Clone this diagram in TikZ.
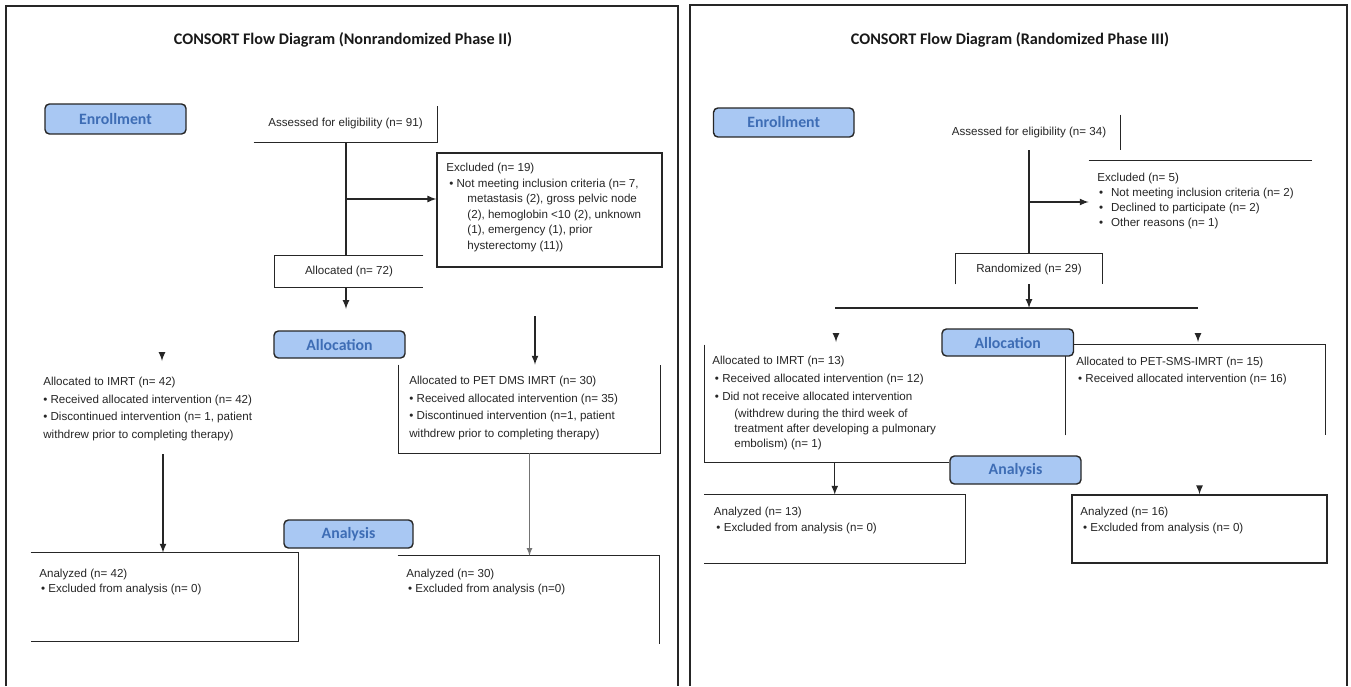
\documentclass[tikz,border=0pt]{standalone}
\usepackage{fontspec}
\setmainfont{Liberation Sans}
\newfontfamily\calib{Carlito}
\usepackage{tikz}
\usetikzlibrary{arrows}

\definecolor{phasefill}{HTML}{A9C8F3}
\definecolor{phasetext}{HTML}{3E6DB5}
\definecolor{inkgray}{HTML}{262626}

\tikzset{
  >=latex,
  panel/.style={draw=inkgray, line width=0.9pt},
  edge/.style={draw=inkgray, line width=0.75pt},
  phase/.style={draw=inkgray, line width=0.8pt, fill=phasefill, rounded corners=2.5pt,
    text=phasetext, font=\calib\bfseries\fontsize{9}{10}\selectfont, inner sep=0pt},
  frm/.style={inner sep=0pt, text=black!85, font=\fontsize{6.6}{10}\selectfont},
  txt/.style={anchor=north west, align=left, inner sep=0pt, text=black!85,
    font=\fontsize{6.6}{10}\selectfont},
  ttl/.style={font=\calib\bfseries\fontsize{9.2}{11}\selectfont, text=black!90},
}

\begin{document}
\begin{tikzpicture}[x=0.02cm, y=-0.02cm]
  \path[use as bounding box, fill=white] (0,0) rectangle (1351,686);

  % Phase II, nonrandomized
  \draw [panel] (6,686) -- (6,6) -- (678,6) -- (678,686);
  \node [ttl] (ttlL) at (343,40) {CONSORT Flow Diagram (Nonrandomized Phase II)};
  \node [phase, minimum width=2.82cm, minimum height=0.6cm] (enL) at (115.5,119) {Enrollment};

  \node [frm, minimum width=3.66cm, minimum height=0.72cm] (asL) at (345.5,124) {Assessed for eligibility (n= 91)};
  \draw [edge] (asL.south west) -- (asL.south east) -- (asL.north east);

  \node [frm, draw=inkgray, line width=0.75pt, minimum width=4.5cm, minimum height=2.28cm] (exL) at (549.5,210) {};
  \node [txt, font=\fontsize{6.6}{8.85}\selectfont] (exLt) at (446,163) {Excluded (n= 19)\\
    \hspace*{1.7pt}• Not meeting inclusion criteria (n= 7,\\
    \hspace*{12pt}metastasis (2), gross pelvic node\\
    \hspace*{12pt}(2), hemoglobin <10 (2), unknown\\
    \hspace*{12pt}(1), emergency (1), prior\\
    \hspace*{12pt}hysterectomy (11))};

  \node [frm, minimum width=2.96cm, minimum height=0.62cm] (alL) at (349,271.5) {Allocated (n= 72)};
  \draw [edge] (alL.north east) -- (alL.north west) -- (alL.south west) -- (alL.south east);

  \coordinate (brL) at (346,199);
  \draw [edge] (asL.south -| brL) -- (alL.north -| brL);
  \draw [edge,->] (brL) -- (brL -| exL.west);
  \coordinate (tpL) at (346,309);
  \draw [edge,->] (alL.south -| tpL) -- (tpL);

  \coordinate (stL) at (162,353);
  \coordinate (etL) at (162,361);
  \draw [edge,->] (stL) -- (etL);
  \node [txt] (imL) at (43,377) {Allocated to IMRT (n= 42)\\
    • Received allocated intervention (n= 42)\\
    • Discontinued intervention (n= 1, patient\\
    withdrew prior to completing therapy)};

  \node [frm, minimum width=5.22cm, minimum height=1.76cm] (rtL) at (529.5,409) {};
  \draw [edge] (rtL.north west) -- (rtL.south west) -- (rtL.south east) -- (rtL.north east);
  \coordinate (tpR) at (535,316);
  \draw [edge,->] (tpR) -- (tpR |- rtL.north);
  \node [txt] (rtLt) at (409,376) {Allocated to PET DMS IMRT (n= 30)\\
    • Received allocated intervention (n= 35)\\
    • Discontinued intervention (n=1, patient\\
    withdrew prior to completing therapy)};

  \node [frm, minimum width=5.34cm, minimum height=1.76cm] (anL) at (164.5,597) {};
  \draw [edge] (anL.north west) -- (anL.north east) -- (anL.south east) -- (anL.south west);
  \coordinate (dnL) at (163,454);
  \draw [edge,->] (dnL) -- (dnL |- anL.north);
  \node [txt, font=\fontsize{6.6}{8.5}\selectfont] (anLt) at (39,569) {Analyzed (n= 42)\\
    \hspace*{1pt}• Excluded from analysis (n= 0)};

  \node [frm, minimum width=5.22cm, minimum height=1.76cm] (anR) at (528.5,600) {};
  \draw [edge] (anR.north west) -- (anR.north east) -- (anR.south east);
  \draw [edge,->,draw=black!55,line width=0.5pt] (rtL.south) -- (rtL.south |- anR.north);
  \node [txt, font=\fontsize{6.6}{8.5}\selectfont] (anRt) at (406,569) {Analyzed (n= 30)\\
    \hspace*{1pt}• Excluded from analysis (n=0)};

  \node [phase, minimum width=2.62cm, minimum height=0.54cm] (alcL) at (339.5,344.5) {Allocation};
  \node [phase, minimum width=2.58cm, minimum height=0.56cm] (anlL) at (348.5,534) {Analysis};

  % Phase III, randomized
  \draw [panel] (690,686) -- (690,5) -- (1347,5) -- (1347,686);
  \node [ttl] (ttlR) at (1010,40) {CONSORT Flow Diagram (Randomized Phase III)};
  \node [phase, minimum width=2.81cm, minimum height=0.58cm] (enR) at (783.75,122.5) {Enrollment};

  \node [frm, minimum width=3.64cm, minimum height=0.7cm] (asR) at (1029,132.5) {Assessed for eligibility (n= 34)};
  \draw [edge] (asR.north east) -- (asR.south east);

  \node [frm, minimum width=4.46cm, minimum height=1.48cm] (exR) at (1200.5,198) {};
  \draw [edge] (exR.north west) -- (exR.north east);
  \node [txt, font=\fontsize{6.6}{8.5}\selectfont] (exRt) at (1097,173) {Excluded (n= 5)\\
    \hspace*{1pt}•\hspace{4.5pt}Not meeting inclusion criteria (n= 2)\\
    \hspace*{1pt}•\hspace{4.5pt}Declined to participate (n= 2)\\
    \hspace*{1pt}•\hspace{4.5pt}Other reasons (n= 1)};

  \node [frm, minimum width=2.92cm, minimum height=0.6cm] (rdR) at (1029,269) {Randomized (n= 29)};
  \draw [edge] (rdR.south west) -- (rdR.north west) -- (rdR.north east) -- (rdR.south east);

  \coordinate (brR) at (1029,202);
  \draw [edge] (asR.south) -- (rdR.north);
  \draw [edge,->] (brR) -- (brR -| exR.west);

  \coordinate (spL) at (835,308);
  \coordinate (spR) at (1198,308);
  \draw [edge] (spL) -- (spR);
  \draw [edge,->] (rdR.south) -- (rdR.south |- spL);

  \coordinate (tL1) at (836,334);
  \coordinate (tL2) at (836,342);
  \coordinate (tR1) at (1198,334);
  \coordinate (tR2) at (1198,342);
  \draw [edge,->] (tL1) -- (tL2);
  \draw [edge,->] (tR1) -- (tR2);

  \node [frm, minimum width=4.89cm, minimum height=2.34cm] (imR) at (826.75,403.5) {};
  \draw [edge] (imR.north west) -- (imR.south west) -- (imR.south east);
  \node [txt, font=\fontsize{6.6}{8.6}\selectfont] (imRt) at (712,356) {Allocated to IMRT (n= 13)\\[1.6pt]
    \hspace*{1.5pt}• Received allocated intervention (n= 12)\\[1.6pt]
    \hspace*{1.5pt}• Did not receive allocated intervention\\[0.8pt]
    \hspace*{12.5pt}(withdrew during the third week of\\
    \hspace*{12.5pt}treatment after developing a pulmonary\\
    \hspace*{12.5pt}embolism) (n= 1)};

  \node [frm, minimum width=5.18cm, minimum height=1.8cm] (ptR) at (1195.5,390) {};
  \draw [edge] (ptR.south west) -- (ptR.north west) -- (ptR.north east) -- (ptR.south east);
  \node [txt, font=\fontsize{6.6}{9.6}\selectfont] (ptRt) at (1076,357) {Allocated to PET-SMS-IMRT (n= 15)\\
    \hspace*{1pt}• Received allocated intervention (n= 16)};

  \node [frm, minimum width=5.21cm, minimum height=1.36cm] (anRL) at (834.75,529) {};
  \draw [edge] (anRL.north west) -- (anRL.north east) -- (anRL.south east) -- (anRL.south west);
  \draw [edge,->] (imR.south -| anRL.north) -- (anRL.north);
  \node [txt, font=\fontsize{6.6}{9}\selectfont] (anRLt) at (713.5,507) {Analyzed (n= 13)\\
    \hspace*{1.5pt}• Excluded from analysis (n= 0)};

  \node [frm, draw=inkgray, line width=0.75pt, minimum width=5.1cm, minimum height=1.36cm] (anRR) at (1199.5,529) {};
  \coordinate (tR3) at (1199.5,487);
  \draw [edge,->] (tR3) -- (anRR.north);
  \node [txt, font=\fontsize{6.6}{9}\selectfont] (anRRt) at (1080,507) {Analyzed (n= 16)\\
    \hspace*{1.5pt}• Excluded from analysis (n= 0)};

  \node [phase, minimum width=2.63cm, minimum height=0.54cm] (alcR) at (1007.75,342.5) {Allocation};
  \node [phase, minimum width=2.62cm, minimum height=0.56cm] (anlR) at (1015.5,470) {Analysis};
\end{tikzpicture}
\end{document}
